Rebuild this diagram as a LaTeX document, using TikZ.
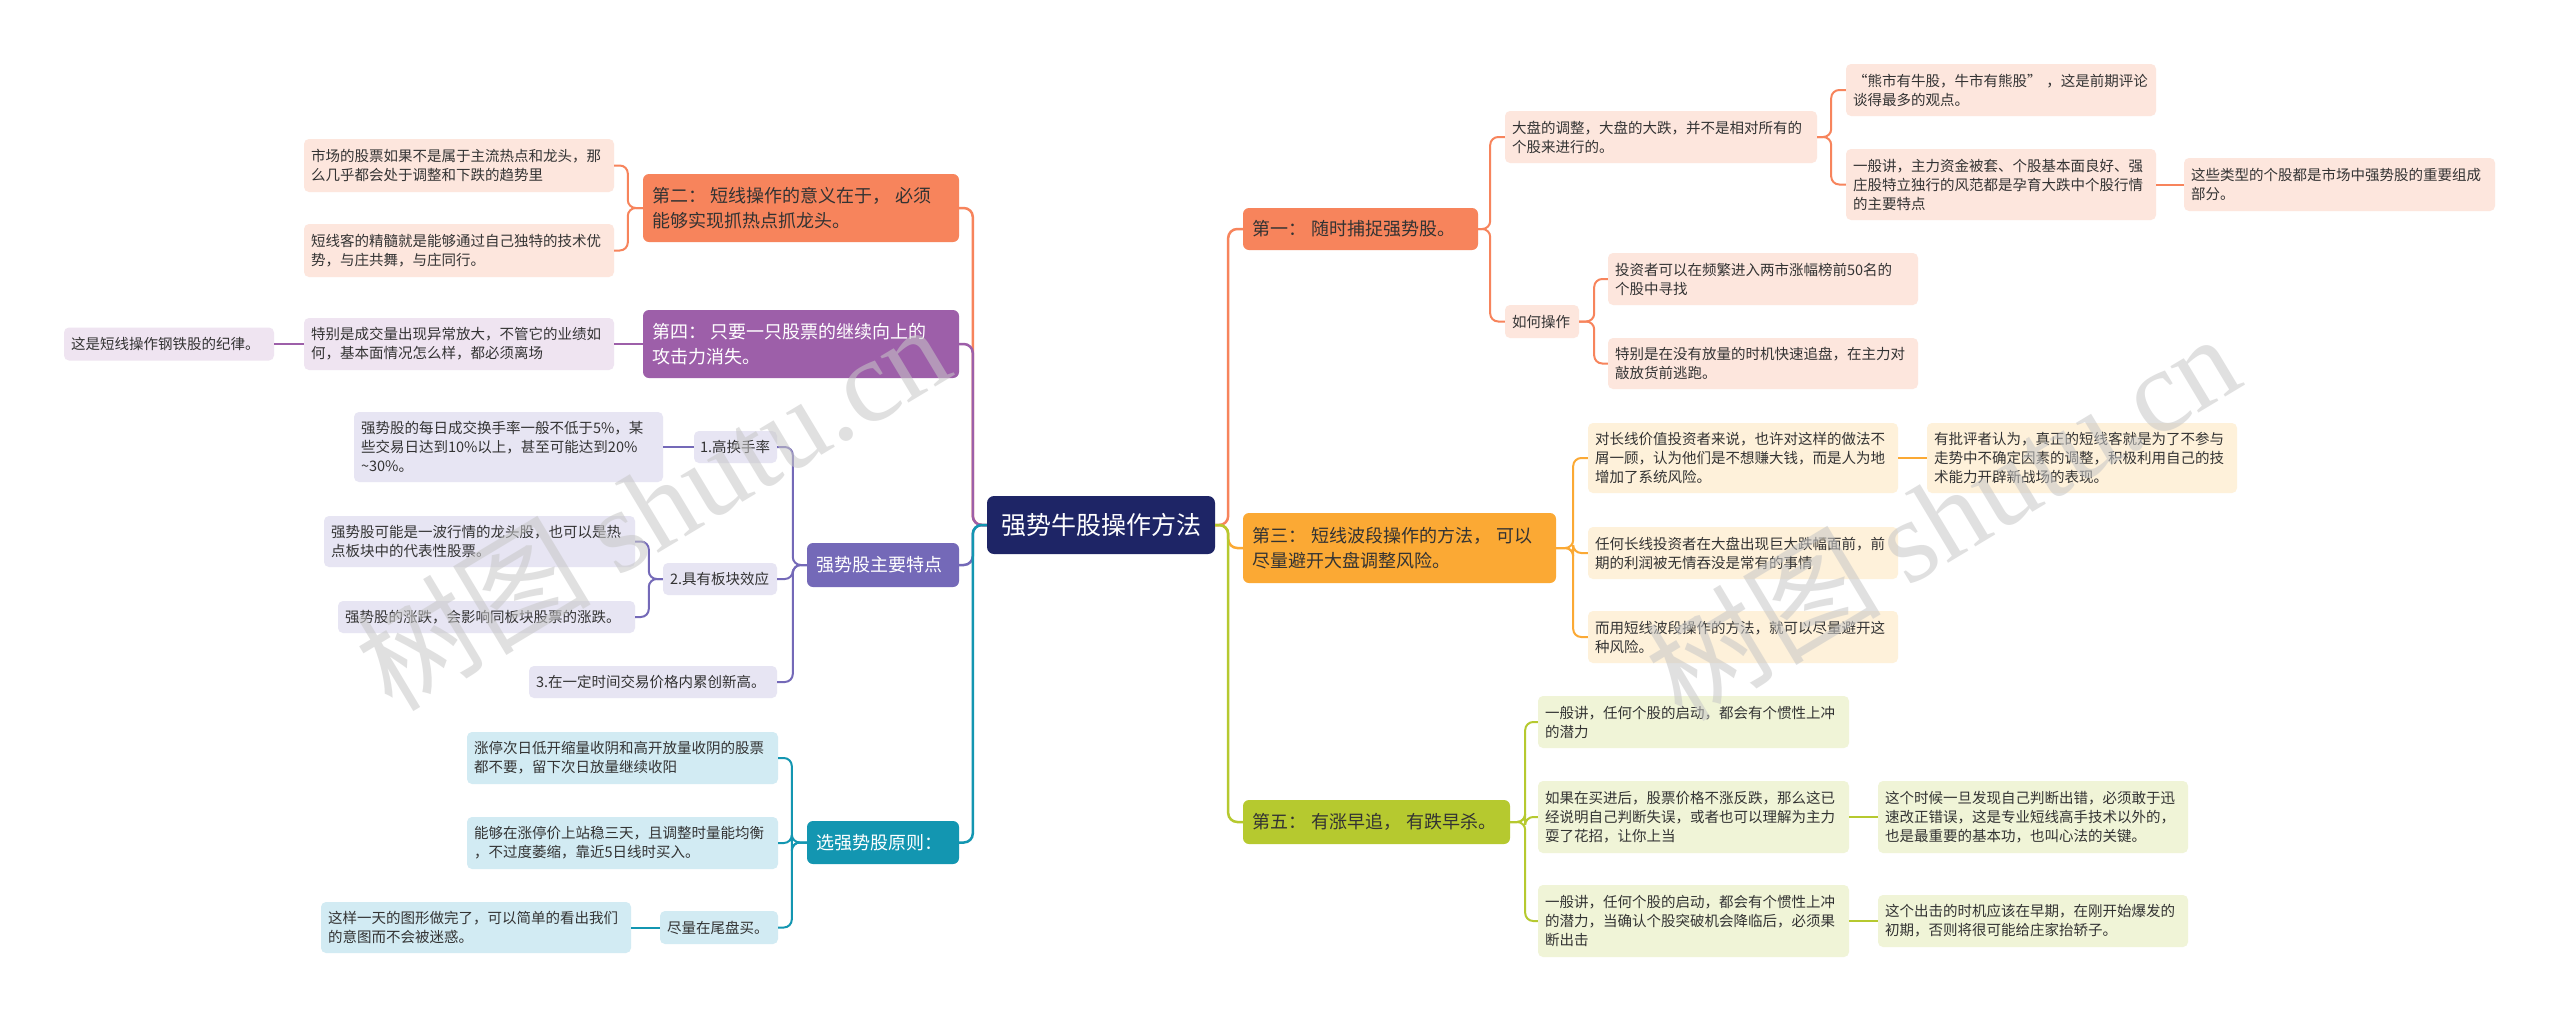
\documentclass[tikz,border=0pt]{standalone}
\usepackage{fontspec}
\setmainfont{Noto Sans CJK SC}
\newfontfamily\cjk{Noto Sans CJK SC}
\newfontfamily\wmlat{Liberation Serif}
\newcommand\kidf{\cjk\fontsize{14.5pt}{19pt}\selectfont}
\newcommand\mainf{\cjk\fontsize{18pt}{24.5pt}\selectfont}
\newcommand\rootf{\cjk\fontsize{25pt}{30pt}\selectfont}
\newcommand\wmf{\fontsize{118pt}{126pt}\selectfont}
\newcommand\gp{\hspace{5pt}}
\definecolor{rootc}{HTML}{1E2566}
\definecolor{coral}{HTML}{F7845C}
\definecolor{amber}{HTML}{FBA934}
\definecolor{olive}{HTML}{B6C92F}
\definecolor{plum}{HTML}{9D5FA9}
\definecolor{slate}{HTML}{7469B8}
\definecolor{teal}{HTML}{1396B1}
\definecolor{lcoral}{HTML}{FDE6DD}
\definecolor{lamber}{HTML}{FEF1DA}
\definecolor{lolive}{HTML}{F0F4D7}
\definecolor{lplum}{HTML}{EFE4F1}
\definecolor{lslate}{HTML}{E7E5F3}
\definecolor{lteal}{HTML}{D2EBF3}
\definecolor{txtd}{HTML}{333333}
\begin{document}
\begin{tikzpicture}[x=1pt,y=-1pt,
  rootbox/.style={rounded corners=7pt, fill=rootc, text=white, font=\rootf, inner sep=0pt},
  mainbox/.style={rounded corners=6pt, inner xsep=9pt, inner ysep=2pt, align=left, font=\mainf, text=txtd},
  kid/.style={rounded corners=5pt, inner xsep=7pt, inner ysep=2pt, align=left, font=\kidf, text=txtd},
  link/.style={line width=2pt, rounded corners=8pt},
  mlink/.style={line width=2.5pt, rounded corners=9pt},
  wm/.style={font=\wmf, text=black!22, opacity=0.55, inner sep=0pt}
]
\useasboundingbox[fill=white] (0,0) rectangle (2560,1021);

% root
\node[rootbox, minimum width=228pt, minimum height=58pt] (root) at (1101,525) {强势牛股操作方法};

% right main branches
\node[mainbox, fill=coral, minimum width=235pt, minimum height=42pt, text width=217pt] (A1) at (1360.5,229) {第一：\gp 随时捕捉强势股。};
\node[mainbox, fill=amber, minimum width=313pt, minimum height=70pt, text width=295pt] (A3) at (1399.5,548) {第三：\gp 短线波段操作的方法，\gp 可以\\尽量避开大盘调整风险。};
\node[mainbox, fill=olive, minimum width=267pt, minimum height=44pt, text width=249pt] (A5) at (1376.5,822) {第五：\gp 有涨早追，\gp 有跌早杀。};

% left main branches
\node[mainbox, fill=coral, minimum width=316pt, minimum height=68pt, text width=298pt] (L2) at (801,208) {第二：\gp 短线操作的意义在于，\gp 必须\\能够实现抓热点抓龙头。};
\node[mainbox, fill=plum, text=white, minimum width=316pt, minimum height=68pt, text width=298pt] (L4) at (801,344) {第四：\gp 只要一只股票的继续向上的\\攻击力消失。};
\node[mainbox, fill=slate, text=white, minimum width=152pt, minimum height=44pt, text width=134pt] (LS) at (883,565) {强势股主要特点};
\node[mainbox, fill=teal, text=white, minimum width=152pt, minimum height=43pt, text width=134pt] (LX) at (883,842.5) {选强势股原则：};

% A1 subtree
\node[kid, fill=lcoral, minimum width=312pt, minimum height=52pt, text width=298pt] (B1) at (1661,137) {大盘的调整，大盘的大跌，并不是相对所有的\\个股来进行的。};
\node[kid, fill=lcoral, minimum width=74pt, minimum height=33pt, text width=60pt] (B2) at (1542,321.5) {如何操作};
\node[kid, fill=lcoral, minimum width=310pt, minimum height=52pt, text width=296pt] (C1) at (2001,90) {“熊市有牛股，牛市有熊股” ，这是前期评论\\谈得最多的观点。};
\node[kid, fill=lcoral, minimum width=310pt, minimum height=71pt, text width=296pt] (C2) at (2001,184.5) {一般讲，主力资金被套、个股基本面良好、强\\庄股特立独行的风范都是孕育大跌中个股行情\\的主要特点};
\node[kid, fill=lcoral, minimum width=311pt, minimum height=53pt, text width=297pt] (D1) at (2339.5,184.5) {这些类型的个股都是市场中强势股的重要组成\\部分。};
\node[kid, fill=lcoral, minimum width=310pt, minimum height=52pt, text width=296pt] (C3) at (1763,279) {投资者可以在频繁进入两市涨幅榜前50名的\\个股中寻找};
\node[kid, fill=lcoral, minimum width=310pt, minimum height=51pt, text width=296pt] (C4) at (1763,363.5) {特别是在没有放量的时机快速追盘，在主力对\\敲放货前逃跑。};

% A3 subtree
\node[kid, fill=lamber, minimum width=310pt, minimum height=70pt, text width=296pt] (E1) at (1743,458) {对长线价值投资者来说，也许对这样的做法不\\屑一顾，认为他们是不想赚大钱，而是人为地\\增加了系统风险。};
\node[kid, fill=lamber, minimum width=310pt, minimum height=70pt, text width=296pt] (F1) at (2082,458) {有批评者认为，真正的短线客就是为了不参与\\走势中不确定因素的调整，积极利用自己的技\\术能力开辟新战场的表现。};
\node[kid, fill=lamber, minimum width=310pt, minimum height=52pt, text width=296pt] (E2) at (1743,553) {任何长线投资者在大盘出现巨大跌幅面前，前\\期的利润被无情吞没是常有的事情};
\node[kid, fill=lamber, minimum width=310pt, minimum height=52pt, text width=296pt] (E3) at (1743,637) {而用短线波段操作的方法，就可以尽量避开这\\种风险。};

% A5 subtree
\node[kid, fill=lolive, minimum width=311pt, minimum height=52pt, text width=297pt] (G1) at (1693.5,722) {一般讲，任何个股的启动，都会有个惯性上冲\\的潜力};
\node[kid, fill=lolive, minimum width=311pt, minimum height=72pt, text width=297pt] (G2) at (1693.5,817) {如果在买进后，股票价格不涨反跌，那么这已\\经说明自己判断失误，或者也可以理解为主力\\耍了花招，让你上当};
\node[kid, fill=lolive, minimum width=310pt, minimum height=72pt, text width=296pt] (H2) at (2033,817) {这个时候一旦发现自己判断出错，必须敢于迅\\速改正错误，这是专业短线高手技术以外的，\\也是最重要的基本功，也叫心法的关键。};
\node[kid, fill=lolive, minimum width=311pt, minimum height=72pt, text width=297pt] (G3) at (1693.5,921) {一般讲，任何个股的启动，都会有个惯性上冲\\的潜力，当确认个股突破机会降临后，必须果\\断出击};
\node[kid, fill=lolive, minimum width=310pt, minimum height=52pt, text width=296pt] (H3) at (2033,921) {这个出击的时机应该在早期，在刚开始爆发的\\初期，否则将很可能给庄家抬轿子。};

% L2 subtree
\node[kid, fill=lcoral, minimum width=310pt, minimum height=53pt, text width=296pt] (M1) at (459,165.5) {市场的股票如果不是属于主流热点和龙头，那\\么几乎都会处于调整和下跌的趋势里};
\node[kid, fill=lcoral, minimum width=310pt, minimum height=53pt, text width=296pt] (M2) at (459,250.5) {短线客的精髓就是能够通过自己独特的技术优\\势，与庄共舞，与庄同行。};

% L4 subtree
\node[kid, fill=lplum, minimum width=310pt, minimum height=52pt, text width=296pt] (N1) at (459,344) {特别是成交量出现异常放大，不管它的业绩如\\何，基本面情况怎么样，都必须离场};
\node[kid, fill=lplum, minimum width=210pt, minimum height=33pt, text width=196pt] (N2) at (169,344) {这是短线操作钢铁股的纪律。};

% LS subtree
\node[kid, fill=lslate, minimum width=83pt, minimum height=32pt, text width=71pt, inner xsep=6pt] (P1) at (735.5,447) {1.高换手率};
\node[kid, fill=lslate, minimum width=114pt, minimum height=32pt, text width=100pt] (P2) at (720,579) {2.具有板块效应};
\node[kid, fill=lslate, minimum width=248pt, minimum height=32pt, text width=234pt] (P3) at (653,682) {3.在一定时间交易价格内累创新高。};
\node[kid, fill=lslate, minimum width=309pt, minimum height=70pt, text width=295pt] (Q1) at (508.5,447) {强势股的每日成交换手率一般不低于5\%，某\\些交易日达到10\%以上，甚至可能达到20\%\\\textasciitilde 30\%。};
\node[kid, fill=lslate, minimum width=311pt, minimum height=51pt, text width=297pt] (Q2) at (479.5,541.5) {强势股可能是一波行情的龙头股，也可以是热\\点板块中的代表性股票。};
\node[kid, fill=lslate, minimum width=297pt, minimum height=32pt, text width=283pt] (Q3) at (486.5,617) {强势股的涨跌，会影响同板块股票的涨跌。};

% LX subtree
\node[kid, fill=lteal, minimum width=311pt, minimum height=52pt, text width=297pt] (R1) at (622.5,758) {涨停次日低开缩量收阴和高开放量收阴的股票\\都不要，留下次日放量继续收阳};
\node[kid, fill=lteal, minimum width=311pt, minimum height=52pt, text width=297pt] (R2) at (622.5,843) {能够在涨停价上站稳三天，且调整时量能均衡\\，不过度萎缩，靠近5日线时买入。};
\node[kid, fill=lteal, minimum width=118pt, minimum height=33pt, text width=104pt] (R3) at (719,927.5) {尽量在尾盘买。};
\node[kid, fill=lteal, minimum width=310pt, minimum height=51pt, text width=296pt] (S1) at (476,927.5) {这样一天的图形做完了，可以简单的看出我们\\的意图而不会被迷惑。};

% connectors: root to main branches
\draw[mlink, coral] (root.east) -- ++(13,0) |- (A1.west);
\draw[mlink, amber] (root.east) -- ++(13,0) |- (A3.west);
\draw[mlink, olive] (root.east) -- ++(13,0) |- (A5.west);
\draw[mlink, coral] (root.west) -- ++(-14,0) |- (L2.east);
\draw[mlink, plum] (root.west) -- ++(-14,0) |- (L4.east);
\draw[mlink, slate] (root.west) -- ++(-14,0) |- (LS.east);
\draw[mlink, teal] (root.west) -- ++(-14,0) |- (LX.east);

% A1
\draw[link, coral] (A1.east) -- ++(12,0) |- (B1.west);
\draw[link, coral] (A1.east) -- ++(12,0) |- (B2.west);
\draw[link, coral] (B1.east) -- ++(14,0) |- (C1.west);
\draw[link, coral] (B1.east) -- ++(14,0) |- (C2.west);
\draw[link, coral] (C2.east) -- (D1.west);
\draw[link, coral] (B2.east) -- ++(15,0) |- (C3.west);
\draw[link, coral] (B2.east) -- ++(15,0) |- (C4.west);
% A3
\draw[link, amber] (A3.east) -- ++(17,0) |- (E1.west);
\draw[link, amber] (A3.east) -- ++(17,0) |- (E2.west);
\draw[link, amber] (A3.east) -- ++(17,0) |- (E3.west);
\draw[link, amber] (E1.east) -- (F1.west);
% A5
\draw[link, olive] (A5.east) -- ++(15,0) |- (G1.west);
\draw[link, olive] (A5.east) -- ++(15,0) |- (G2.west);
\draw[link, olive] (A5.east) -- ++(15,0) |- (G3.west);
\draw[link, olive] (G2.east) -- (H2.west);
\draw[link, olive] (G3.east) -- (H3.west);
% L2
\draw[link, coral] (L2.west) -- ++(-15,0) |- (M1.east);
\draw[link, coral] (L2.west) -- ++(-15,0) |- (M2.east);
% L4
\draw[link, plum] (L4.west) -- (N1.east);
\draw[link, plum] (N1.west) -- (N2.east);
% LS
\draw[link, slate] (LS.west) -- ++(-14,0) |- (P1.east);
\draw[link, slate] (LS.west) -- ++(-14,0) |- (P2.east);
\draw[link, slate] (LS.west) -- ++(-14,0) |- (P3.east);
\draw[link, slate] (P1.west) -- (Q1.east);
\draw[link, slate] (P2.west) -- ++(-14,0) |- (Q2.east);
\draw[link, slate] (P2.west) -- ++(-14,0) |- (Q3.east);
% LX
\draw[link, teal] (LX.west) -- ++(-15,0) |- (R1.east);
\draw[link, teal] (LX.west) -- ++(-15,0) |- (R2.east);
\draw[link, teal] (LX.west) -- ++(-15,0) |- (R3.east);
\draw[link, teal] (R3.west) -- (S1.east);

% watermarks
\node[wm, rotate=31] (wm1) at (652,505) {{\cjk 树图} {\wmlat shutu.cn}};
\node[wm, rotate=31] (wm2) at (1942,515) {{\cjk 树图} {\wmlat shutu.cn}};
\end{tikzpicture}
\end{document}
